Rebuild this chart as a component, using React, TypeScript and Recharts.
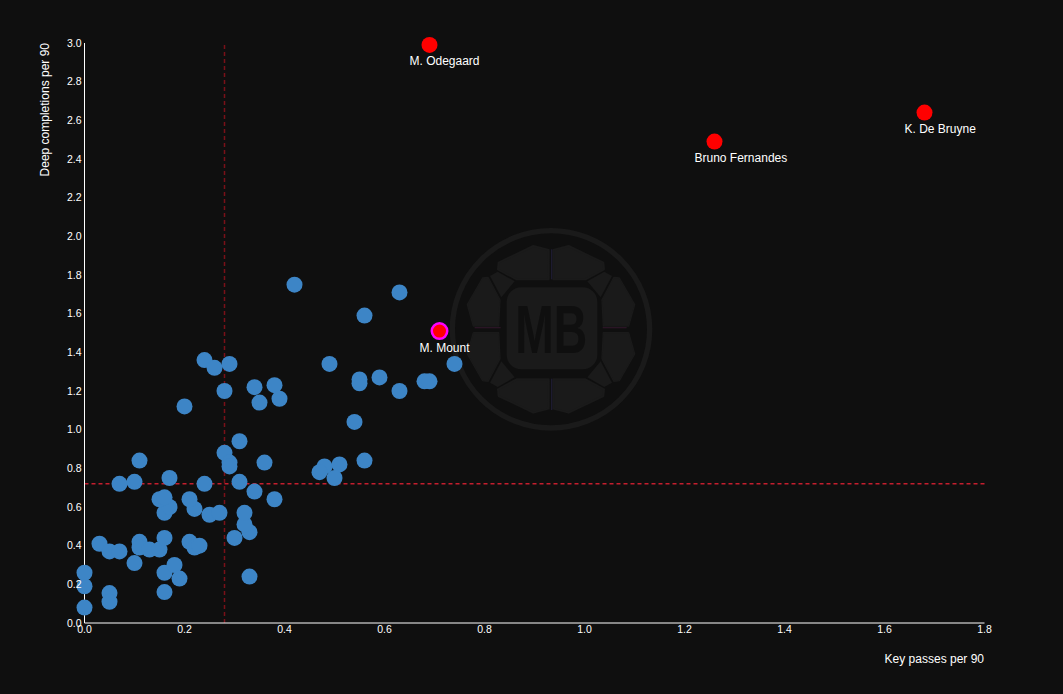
import { ScatterChart, Scatter, XAxis, YAxis, ReferenceLine, LabelList, Label } from "recharts";

const keyPasses = [
  0, 0, 0, 0.05, 0.05, 0.16, 0.16, 0.18, 0.19, 0.1, 0.03, 0.05, 0.07, 0.11, 0.11, 0.13, 0.15, 0.16, 0.21, 0.22,
  0.23, 0.3, 0.33, 0.32, 0.32, 0.33, 0.25, 0.27, 0.22, 0.21, 0.16, 0.17, 0.15, 0.16, 0.07, 0.1, 0.11, 0.17, 0.24, 0.31,
  0.34, 0.38, 0.36, 0.31, 0.28, 0.29, 0.29, 0.48, 0.47, 0.51, 0.5, 0.56, 0.54, 0.28, 0.2, 0.24, 0.26, 0.29, 0.34, 0.35,
  0.38, 0.39, 0.49, 0.55, 0.55, 0.59, 0.63, 0.68, 0.69, 0.74, 0.56, 0.63, 0.42,
];
const deepCompletions = [
  0.08, 0.19, 0.26, 0.155, 0.11, 0.16, 0.26, 0.3, 0.23, 0.31, 0.41, 0.37, 0.37, 0.42, 0.39, 0.38, 0.38, 0.44, 0.42, 0.39,
  0.4, 0.44, 0.47, 0.51, 0.57, 0.24, 0.56, 0.57, 0.59, 0.64, 0.57, 0.6, 0.64, 0.65, 0.72, 0.73, 0.84, 0.75, 0.72, 0.73,
  0.68, 0.64, 0.83, 0.94, 0.88, 0.83, 0.81, 0.81, 0.78, 0.82, 0.75, 0.84, 1.04, 1.2, 1.12, 1.36, 1.32, 1.34, 1.22, 1.14,
  1.23, 1.16, 1.34, 1.26, 1.24, 1.27, 1.2, 1.25, 1.25, 1.34, 1.59, 1.71, 1.75,
];

const topNames = ["M. Odegaard", "Bruno Fernandes", "K. De Bruyne"];
const topKeyPasses = [0.69, 1.26, 1.68];
const topDeep = [2.99, 2.49, 2.64];

const highlightNames = ["M. Mount"];
const highlightKeyPasses = [0.71];
const highlightDeep = [1.51];

const xTicks = [0, 0.2, 0.4, 0.6, 0.8, 1, 1.2, 1.4, 1.6, 1.8];
const yTicks = [0, 0.2, 0.4, 0.6, 0.8, 1, 1.2, 1.4, 1.6, 1.8, 2, 2.2, 2.4, 2.6, 2.8, 3];

const avgKeyPasses = 0.28;
const avgDeep = 0.72;

const BG = "#0f0f0f";
const PANEL = "#1a1a1a";
const FONT = "'Liberation Sans', Arial, sans-serif";

const others = keyPasses.map((x, i) => ({ x, y: deepCompletions[i] }));
const top = topNames.map((name, i) => ({ name, x: topKeyPasses[i], y: topDeep[i] }));
const highlight = highlightNames.map((name, i) => ({ name, x: highlightKeyPasses[i], y: highlightDeep[i] }));

// watermark behind the plot, drawn in 3x crop coordinates
function Quarter() {
  return (
    <g>
      <path d="M178,128 L282,78 L328,90 L328,178 L232,178 L176,148 Z" fill={PANEL} stroke={PANEL} strokeWidth={6} strokeLinejoin="round" />
      <path d="M130,174 L84,254 L102,318 L178,318 L182,240 L146,172 Z" fill={PANEL} stroke={PANEL} strokeWidth={4} strokeLinejoin="round" />
      <path d="M152,168 L175,155 L226,184 L186,232 Z" fill={PANEL} />
    </g>
  );
}

function Logo() {
  return (
    <svg width={1063} height={694} style={{ position: "absolute", left: 0, top: 0 }}>
      <g transform="translate(440,220) scale(0.3333)">
        <circle cx={333} cy={328} r={296} fill="none" stroke={PANEL} strokeWidth={16} />
        <g transform="translate(333,328)">
          {[[1, 1], [-1, 1], [1, -1], [-1, -1]].map(([sx, sy], i) => (
            <g key={i} transform={`scale(${sx},${sy}) translate(-335,-328)`}>
              <Quarter />
            </g>
          ))}
        </g>
        <line x1={335} y1={88} x2={335} y2={178} stroke="#1d1b30" strokeWidth={4} />
        <line x1={335} y1={476} x2={335} y2={570} stroke="#1d1b30" strokeWidth={4} />
        <line x1={104} y1={323} x2={182} y2={323} stroke="#2a1525" strokeWidth={4} />
        <line x1={488} y1={323} x2={560} y2={323} stroke="#2a1525" strokeWidth={4} />
        <rect x={200} y={202} width={272} height={246} rx={44} fill={PANEL} />
        <text
          x={334}
          y={398}
          textAnchor="middle"
          textLength={216}
          lengthAdjust="spacingAndGlyphs"
          fontFamily={FONT}
          fontWeight={700}
          fontSize={205}
          fill={BG}
        >
          MB
        </text>
      </g>
    </svg>
  );
}

const renderYTitle = () => (
  <text transform="translate(49,43) rotate(-90)" textAnchor="end" fill="#ffffff" fontSize={12} fontFamily={FONT}>
    Deep completions per 90
  </text>
);

const renderXTitle = () => (
  <text x={984} y={663} textAnchor="end" fill="#ffffff" fontSize={12} fontFamily={FONT}>
    Key passes per 90
  </text>
);

// names start 20px left of the point, they are not centred under it
const renderName = (props: any) => (
  <text
    x={props.x + props.width / 2 - 20}
    y={props.y + props.height + 16}
    textAnchor="start"
    fill="#ffffff"
    fontSize={12}
    fontFamily={FONT}
  >
    {props.value}
  </text>
);

const Dot = (props: any) => <circle cx={props.cx} cy={props.cy} r={8} fill={props.fill} />;
const RingDot = (props: any) => (
  <circle cx={props.cx} cy={props.cy} r={7.75} fill={props.fill} stroke="#ff00ff" strokeWidth={2.5} />
);

const tickStyle = { fill: "#ffffff", fontSize: 10.5, fontFamily: FONT };

export default function App() {
  return (
    <div style={{ position: "fixed", left: 0, top: 0, width: 1063, height: 694, background: BG, overflow: "hidden" }}>
      <Logo />
      <div style={{ position: "absolute", left: 0, top: 0 }}>
        <ScatterChart width={1063} height={694} margin={{ top: 43, right: 78.5, bottom: 0, left: 0 }}>
          <XAxis
            type="number"
            dataKey="x"
            domain={[0, 1.8]}
            ticks={xTicks}
            interval={0}
            tickFormatter={(v: number) => v.toFixed(1)}
            height={71}
            tickLine={false}
            tickSize={0}
            tickMargin={3}
            tick={tickStyle}
            axisLine={{ stroke: "#ffffff", strokeWidth: 1 }}
          >
            <Label content={renderXTitle} />
          </XAxis>
          <YAxis
            type="number"
            dataKey="y"
            domain={[0, 3]}
            ticks={yTicks}
            interval={0}
            tickFormatter={(v: number) => v.toFixed(1)}
            width={84.5}
            tickLine={false}
            tickSize={0}
            tickMargin={3}
            tick={tickStyle}
            axisLine={{ stroke: "#ffffff", strokeWidth: 1 }}
          >
            <Label content={renderYTitle} />
          </YAxis>
          <ReferenceLine x={avgKeyPasses} stroke="#7a1018" strokeWidth={1.5} strokeDasharray="4 3" />
          <ReferenceLine y={avgDeep} stroke="#c41e2e" strokeWidth={1.5} strokeDasharray="4 3" />
          <Scatter data={others} fill="#3d85c6" shape={Dot} isAnimationActive={false} />
          <Scatter data={top} fill="#ff0000" shape={Dot} isAnimationActive={false}>
            <LabelList dataKey="name" content={renderName} />
          </Scatter>
          <Scatter data={highlight} fill="#ff0000" shape={RingDot} isAnimationActive={false}>
            <LabelList dataKey="name" content={renderName} />
          </Scatter>
        </ScatterChart>
      </div>
    </div>
  );
}
